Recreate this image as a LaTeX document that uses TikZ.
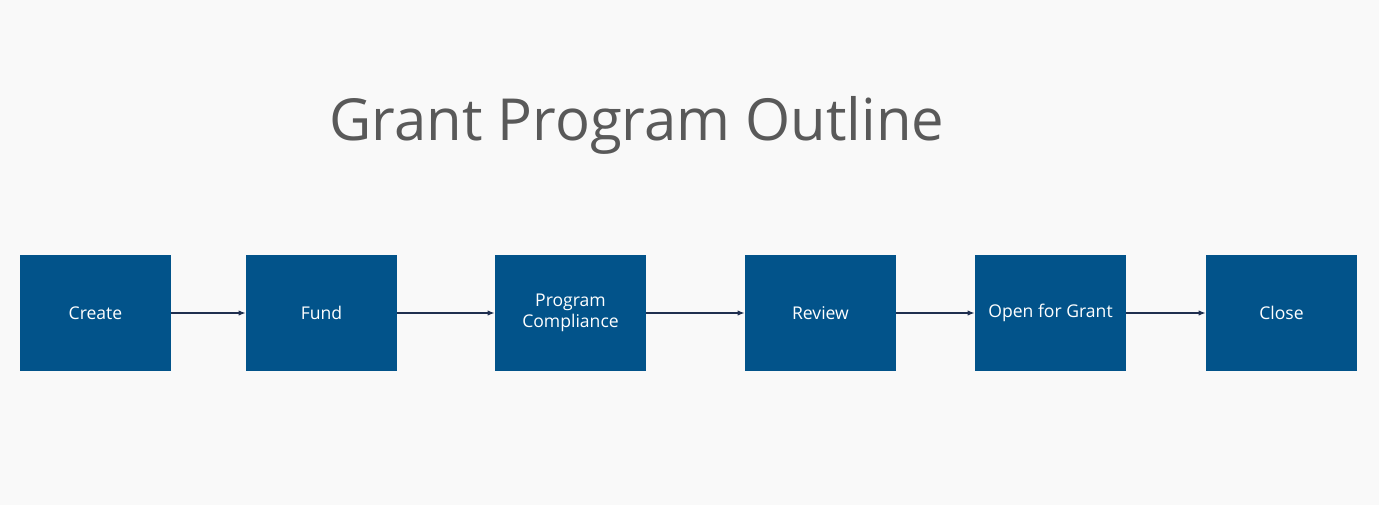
\documentclass[tikz,border=0pt]{standalone}
\usepackage{fontspec}
\setmainfont{Open Sans}
\usetikzlibrary{arrows.meta}
\definecolor{bgcol}{HTML}{F9F9F9}
\definecolor{boxcol}{HTML}{02538A}
\definecolor{titlecol}{HTML}{595959}
\definecolor{linecol}{HTML}{1F2F4F}
\tikzset{
  stage/.style={fill=boxcol, minimum width=3.02cm, minimum height=2.32cm, align=center,
    text=white, font=\fontsize{10}{12}\selectfont, inner sep=2pt},
  flow/.style={-{Latex[length=4pt,width=3pt]}, draw=linecol, line width=0.6pt}
}
\begin{document}
\begin{tikzpicture}
	\fill[bgcol] (0,0) rectangle (27.58,10.1);
	\useasboundingbox (0,0) rectangle (27.58,10.1);
	% title
	\node[text=titlecol, font=\fontsize{33}{38}\selectfont] (title) at (12.74,7.6) {Grant Program Outline};
	% stages
	\node[stage] (create) at (1.91,3.84) {Create};
	\node[stage] (fund) at (6.43,3.84) {Fund};
	\node[stage] (comply) at (11.41,3.84) {Program\\Compliance};
	\node[stage] (review) at (16.41,3.84) {Review};
	\node[stage] (open) at (21.01,3.84) {Open for Grant};
	\node[stage] (close) at (25.63,3.84) {Close};
	% connectors
	\draw[flow] (create) -- (fund);
	\draw[flow] (fund) -- (comply);
	\draw[flow] (comply) -- (review);
	\draw[flow] (review) -- (open);
	\draw[flow] (open) -- (close);
\end{tikzpicture}
\end{document}
